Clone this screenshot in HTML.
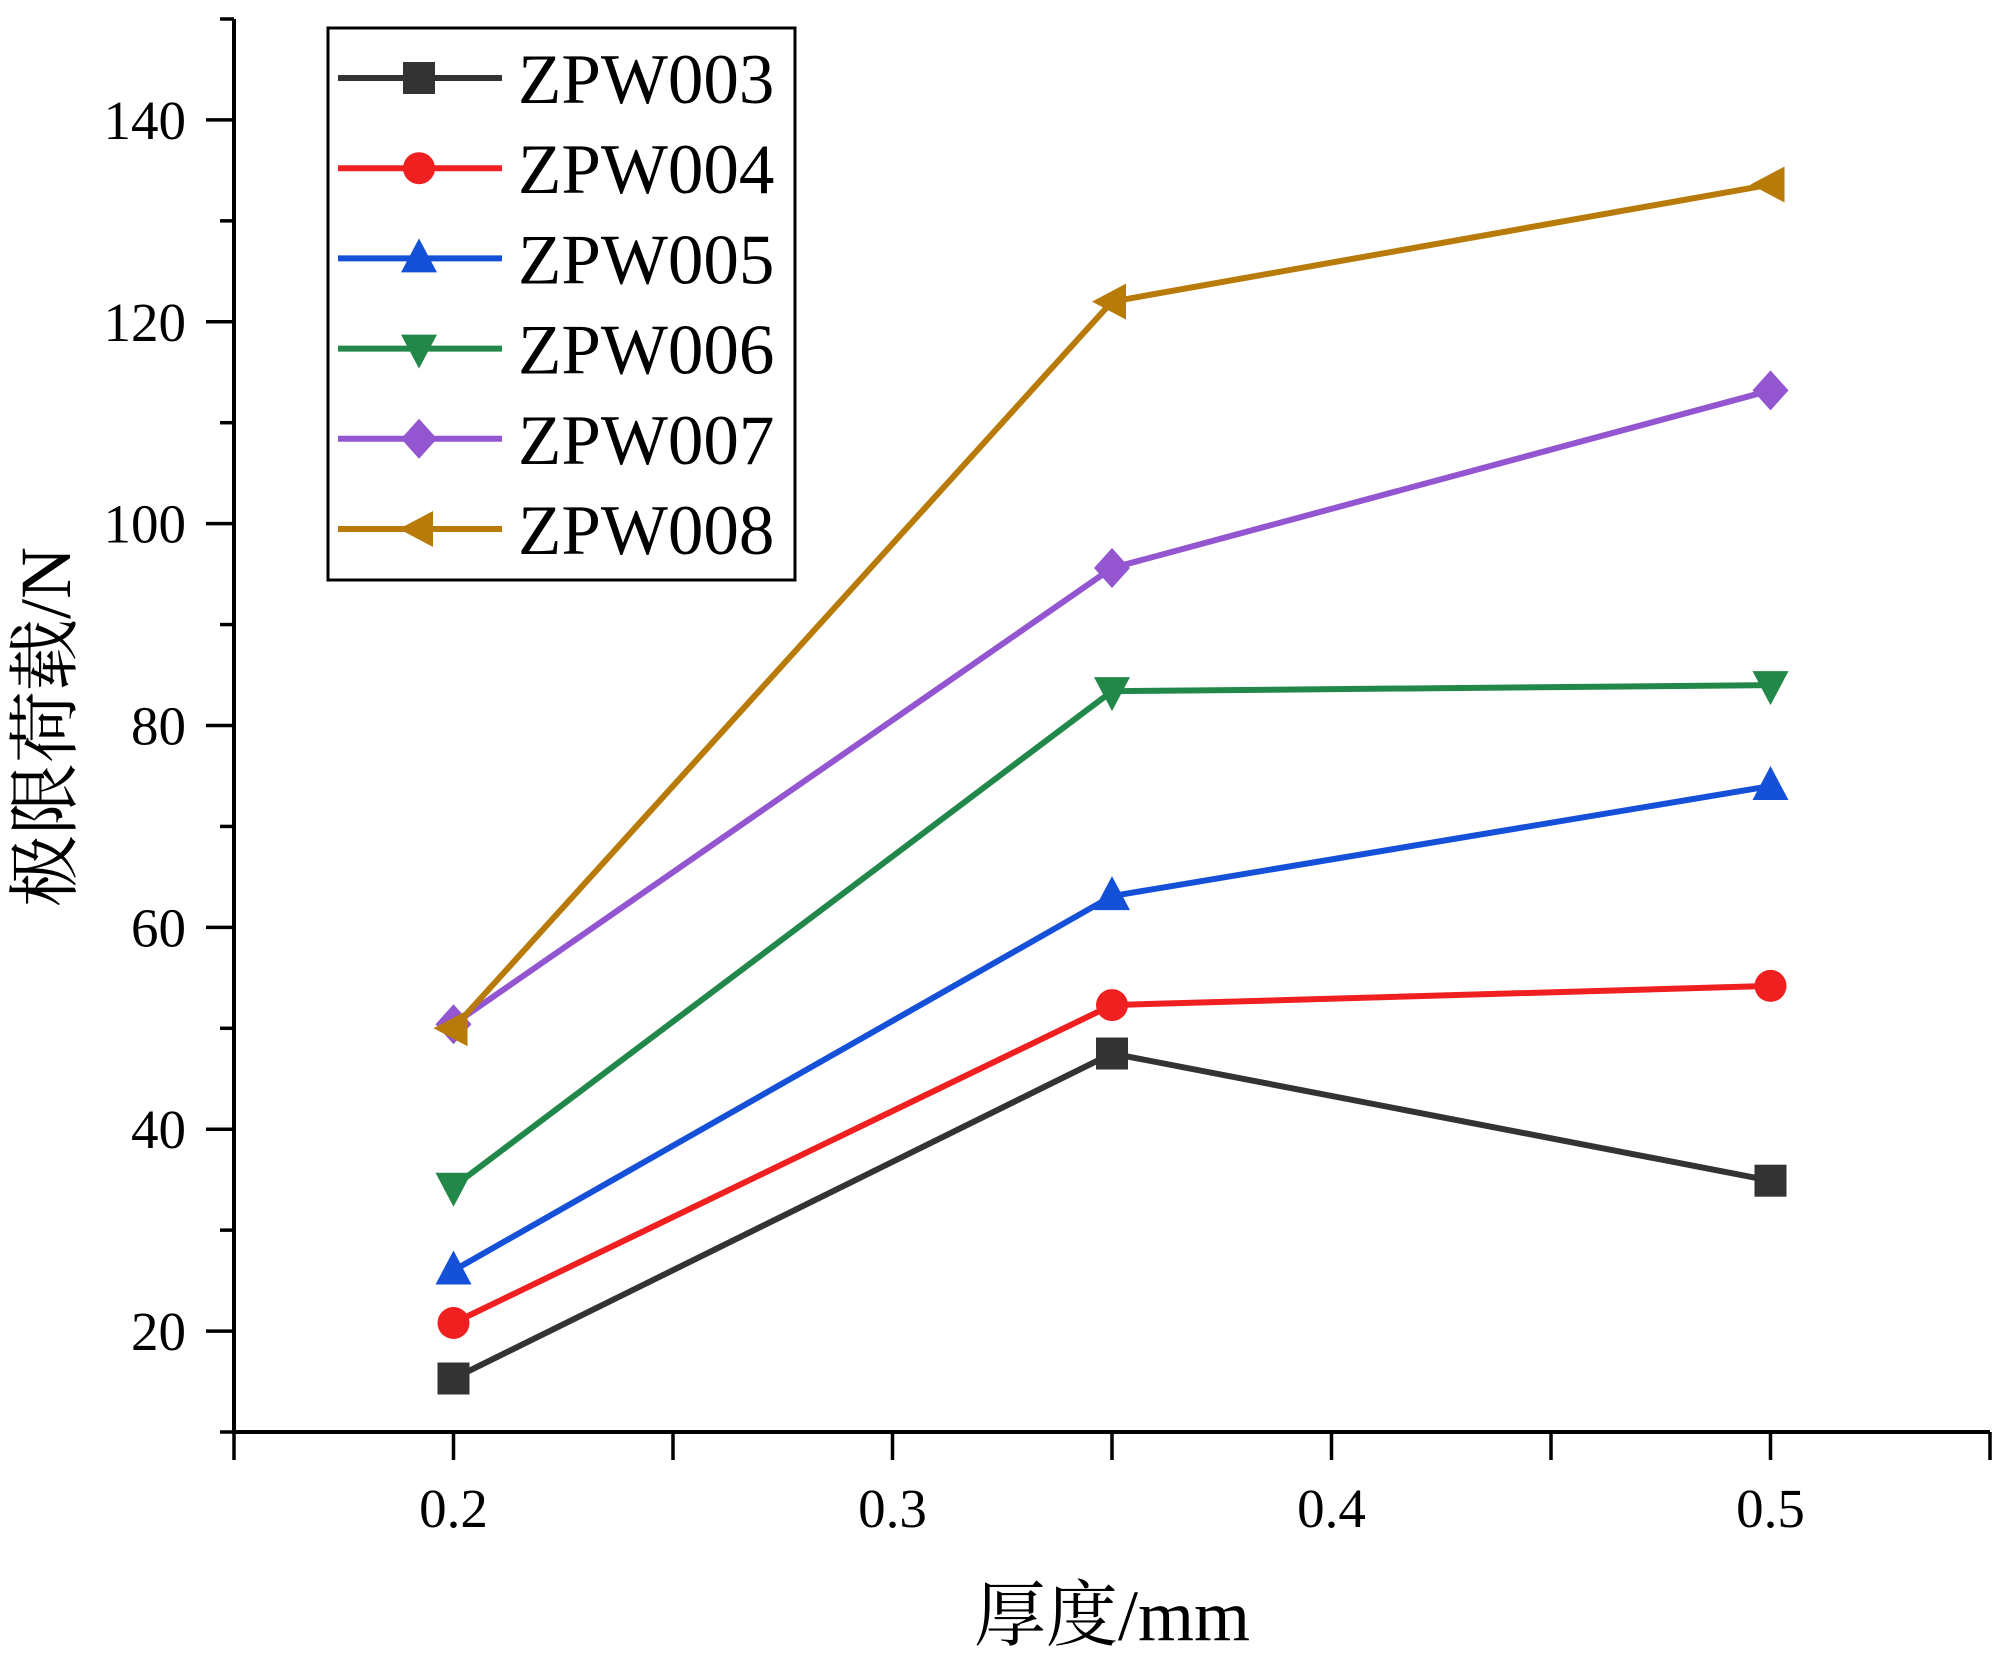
<!DOCTYPE html>
<html><head><meta charset="utf-8"><style>
html,body{margin:0;padding:0;background:#fff;}
svg{display:block;}
text{font-family:"Liberation Serif","Noto Serif CJK SC",serif;fill:#000;}
</style></head><body>
<svg id="chart" width="2000" height="1665" viewBox="0 0 2000 1665" xmlns="http://www.w3.org/2000/svg">
<g id="series"></g>
<g id="axes"></g>
<g id="legend"></g>
<text x="1112" y="1640" font-size="72" text-anchor="middle">厚度/mm</text>
<text transform="translate(70,727) rotate(-90)" font-size="72" text-anchor="middle">极限荷载/N</text>
</svg>
<script>
const xCategories = [0.2, 0.35, 0.5];
const seriesNames = ["ZPW003","ZPW004","ZPW005","ZPW006","ZPW007","ZPW008"];
const zpw003 = [15.3, 47.5, 34.9];
const zpw004 = [20.8, 52.3, 54.2];
const zpw005 = [26.0, 63.1, 74.0];
const zpw006 = [34.3, 83.4, 84.0];
const zpw007 = [50.4, 95.6, 113.2];
const zpw008 = [50.0, 122.0, 133.6];
const yTickLabels = [20, 40, 60, 80, 100, 120, 140];
const xTickLabels = [0.2, 0.3, 0.4, 0.5];

const colors = ["#333333","#f02020","#1550d8","#22884a","#9355d0","#b87a08"];
const markers = ["square","circle","up","down","diamond","left"];
const seriesData = [zpw003, zpw004, zpw005, zpw006, zpw007, zpw008];

const L=234, R=1990, T=19, B=1432;
const X0=0.15, X1=0.55, Y0=10, Y1=150;
function xs(v){return L+(v-X0)/(X1-X0)*(R-L);}
function ys(v){return B-(v-Y0)/(Y1-Y0)*(B-T);}
const NS="http://www.w3.org/2000/svg";
function mk(tag, attrs, parent){const e=document.createElementNS(NS,tag);for(const k in attrs)e.setAttribute(k,attrs[k]);parent.appendChild(e);return e;}

function marker(type, x, y, color, parent){
  const s=18;
  let e;
  if(type==="square") e=mk("rect",{x:x-s+2,y:y-s+2,width:2*s-4,height:2*s-4,fill:color},parent);
  else if(type==="circle") e=mk("circle",{cx:x,cy:y,r:s-2,fill:color},parent);
  else if(type==="up") e=mk("polygon",{points:`${x},${y-s-2} ${x+s},${y+s-4} ${x-s},${y+s-4}`,fill:color},parent);
  else if(type==="down") e=mk("polygon",{points:`${x},${y+s+2} ${x+s},${y-s+4} ${x-s},${y-s+4}`,fill:color},parent);
  else if(type==="diamond") e=mk("polygon",{points:`${x},${y-s-2} ${x+s},${y} ${x},${y+s+2} ${x-s},${y}`,fill:color},parent);
  else e=mk("polygon",{points:`${x-s-2},${y} ${x+s-4},${y-s} ${x+s-4},${y+s}`,fill:color},parent);
  return e;
}

const sg=document.getElementById("series");
seriesData.forEach((d,i)=>{
  const g=mk("g",{},sg);
  
  
  const pts=d.map((v,j)=>xs(xCategories[j])+","+ys(v)).join(" ");
  const pl=mk("polyline",{points:pts,fill:"none",stroke:colors[i],"stroke-width":6},g);
  
  
  d.forEach((v,j)=>{
    const m=marker(markers[i],xs(xCategories[j]),ys(v),colors[i],g);
    
    
  });
});

const ag=document.getElementById("axes");
let e=mk("line",{x1:L,y1:T,x2:L,y2:B+2,stroke:"#000","stroke-width":4},ag);


e=mk("line",{x1:L-2,y1:B,x2:R,y2:B,stroke:"#000","stroke-width":4},ag);


for(let v=10; v<=150; v+=10){
  const major = yTickLabels.includes(v);
  const t=mk("line",{x1:L-(major?28:14),y1:ys(v),x2:L,y2:ys(v),stroke:"#000","stroke-width":3.5},ag);
  
  
}
yTickLabels.forEach(v=>{
  const t=mk("text",{x:L-48,y:ys(v)+19,"font-size":55,"text-anchor":"end"},ag);
  t.textContent=v;
  
  
});
for(let k=0;k<=8;k++){
  const v=X0+k*0.05;
  const t=mk("line",{x1:xs(v),y1:B,x2:xs(v),y2:B+28,stroke:"#000","stroke-width":3.5},ag);
  
  
}
xTickLabels.forEach(v=>{
  const t=mk("text",{x:xs(v),y:1527,"font-size":55,"text-anchor":"middle"},ag);
  t.textContent=v.toFixed(1);
  
  
});

const lg=document.getElementById("legend");
e=mk("rect",{x:328,y:28,width:467,height:552,fill:"#fff",stroke:"#000","stroke-width":3},lg);


seriesNames.forEach((n,i)=>{
  const y=78+i*90.2;
  const g=mk("g",{},lg);
  
  
  mk("line",{x1:338,y1:y,x2:502,y2:y,stroke:colors[i],"stroke-width":6},g);
  marker(markers[i],419,y,colors[i],g);
  const t=mk("text",{x:518,y:y+25,"font-size":71},g);
  t.textContent=n;
});
</script>
</body></html>
